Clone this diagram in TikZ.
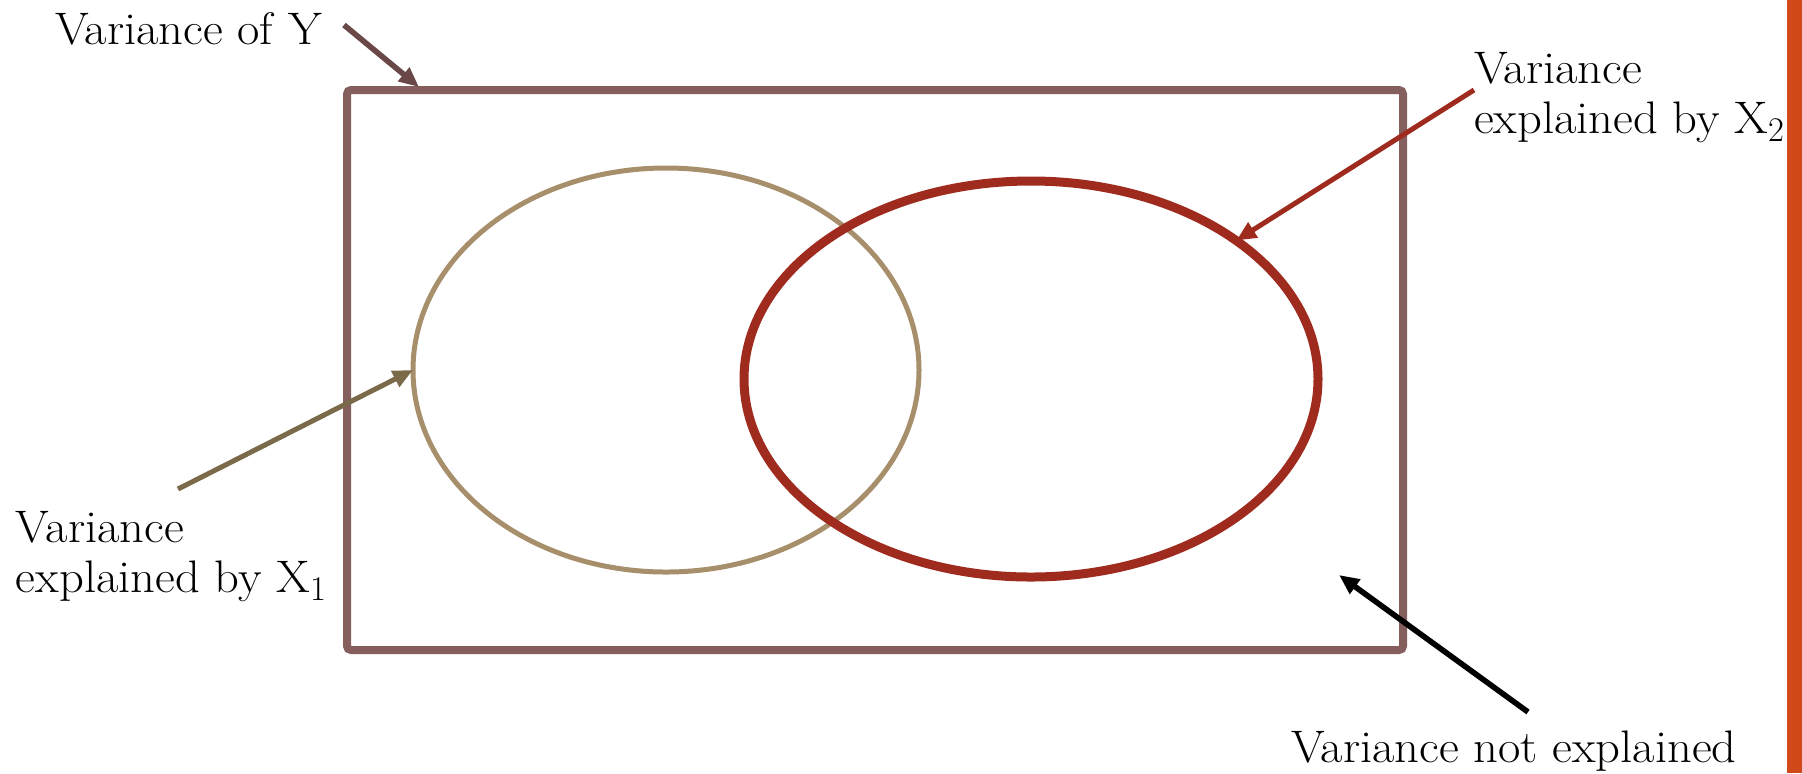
\documentclass[tikz,border=0pt]{standalone}
\usepackage{fontspec}
\setmainfont{Latin Modern Roman}[FakeStretch=1.065]
\usetikzlibrary{shapes.geometric,arrows.meta}
\definecolor{boxc}{RGB}{133,94,94}
\definecolor{yarr}{RGB}{107,72,72}
\definecolor{tanc}{RGB}{166,143,106}
\definecolor{tanarr}{RGB}{122,106,74}
\definecolor{redc}{RGB}{158,43,30}
\definecolor{orangec}{RGB}{210,73,25}
\begin{document}
\begin{tikzpicture}[x=0.5pt,y=-0.5pt,
  every node/.style={inner sep=0pt,outer sep=0pt},
  lbl/.style={font=\fontsize{22.8}{25}\selectfont,align=left,text=black},
  arr/.style={line width=2.8pt,-{Triangle[length=10pt,width=8.5pt]}}]
\useasboundingbox (0,0) rectangle (1802,773);
\fill[orangec] (1787,0) rectangle (1802,773);
% box
\node[draw=boxc,line width=4pt,rounded corners=2pt,minimum width=528pt,minimum height=280pt] (box) at (875,370) {};
% ellipses
\node[ellipse,draw=tanc,line width=2.5pt,minimum width=253pt,minimum height=202pt] (e1) at (666,370) {};
\node[ellipse,draw=redc,line width=4.5pt,minimum width=287pt,minimum height=198pt] (e2) at (1031,379) {};
% labels
\node[lbl,anchor=base west] (ly) at (55,44) {Variance of Y};
\node[lbl,anchor=north west] (lx2) at (1474,52) {Variance\\explained by X$_2$};
\node[lbl,anchor=north west] (lx1) at (16,511) {Variance\\explained by X$_1$};
\node[lbl,anchor=base west] (ln) at (1291,762) {Variance not explained};
% arrow endpoints
\coordinate (ys) at (344,25);
\coordinate (ye) at (419,87);
\coordinate (x2s) at (1474,90);
\coordinate (x1s) at (178,489);
\coordinate (ns) at (1528,712);
\coordinate (ne) at (1339,575);
% arrows
\draw[arr,draw=yarr,fill=yarr] (ys) -- (ye);
\draw[arr,draw=redc,fill=redc,line width=2.5pt] (x2s) -- (e2.34);
\draw[arr,draw=tanarr,fill=tanarr,line width=2.5pt] (x1s) -- (e1.west);
\draw[arr,draw=black,fill=black] (ns) -- (ne);
\end{tikzpicture}
\end{document}
